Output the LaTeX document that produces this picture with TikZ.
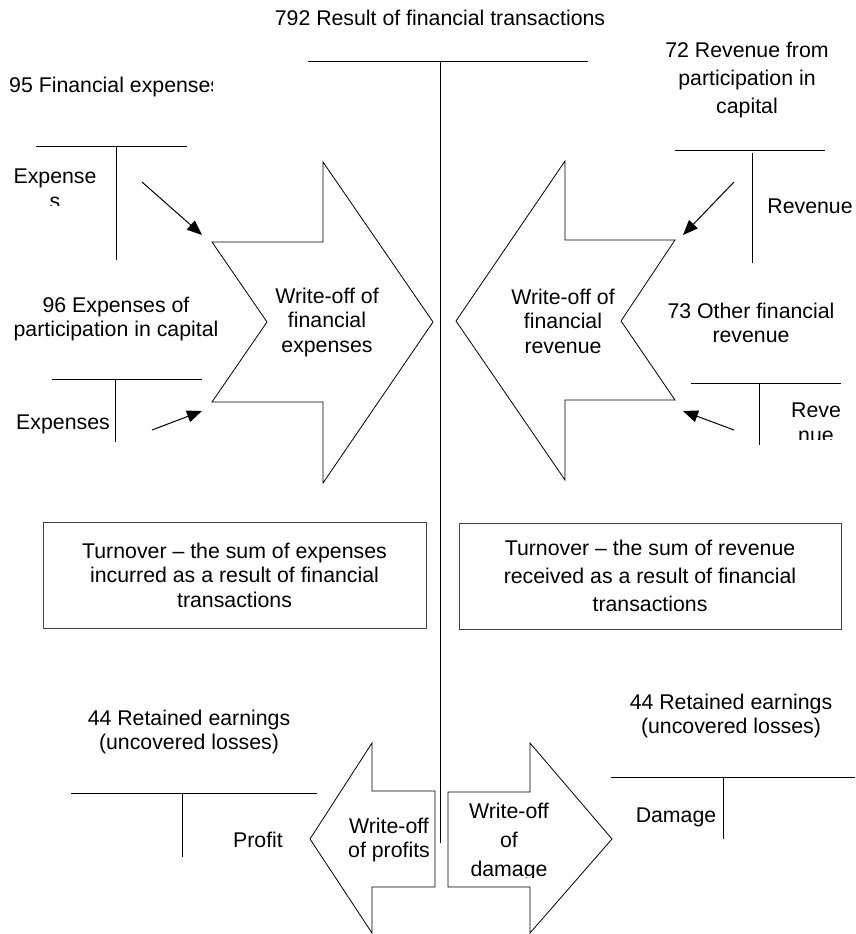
\documentclass[tikz,border=0pt]{standalone}
\usepackage{fontspec}
\setmainfont{Liberation Sans}
\usetikzlibrary{arrows.meta,positioning}
\tikzset{
	account/.style = {
		line width=1pt
	},
	txt/.style = {
		font=\fontsize{21.3}{24.5}\selectfont,
		align=center,
		inner sep=0pt
	},
	txtwide/.style = {
		font=\fontsize{21.3}{28}\selectfont,
		align=center,
		inner sep=0pt
	},
	pointer/.style = {
		-{Triangle[length=15pt,width=12pt]},
		line width=1pt
	},
	bigarrow/.style = {
		draw,
		line width=0.8pt,
		line join=miter
	},
	turnbox/.style = {
		draw=black!75,
		line width=1pt,
		rectangle,
		font=\fontsize{21.3}{24.5}\selectfont,
		align=center,
		inner sep=0pt
	}
}

\begin{document}
\begin{tikzpicture}[x=1pt,y=-1pt]
		\useasboundingbox (0,0) rectangle (855,934);
		
		% --- Cuenta central 792 ---
		\node [txt] (res) at (440,18) {792 Result of financial transactions};
		\draw [account] (308,62) -- (588,62);
		\draw [account] (440,62) -- (440,843);
		
		% --- Lado izquierdo: gastos financieros ---
		\begin{scope}
			\clip (0,60) rectangle (212,115);
			\node [txt, anchor=west] (fin95) at (9,87) {95 Financial expenses};
		\end{scope}
		\draw [account] (36,146) -- (187,146);
		\draw [account] (116,146) -- (116,260);
		\begin{scope}
			\clip (0,150) rectangle (112,205);
			\node [txt] (exp95) at (55,189) {Expense\\s};
		\end{scope}
		
		\node [txt] (fin96) at (116,319) {96 Expenses of\\participation in capital};
		\draw [account] (52,379) -- (202,379);
		\draw [account] (115,379) -- (115,442);
		\node [txt] (exp96) at (63,424) {Expenses};
		
		% Flecha grande: cargo de gastos
		\draw [bigarrow] (212,242) -- (323,242) -- (323,162) -- (433,322)
		-- (323,483) -- (323,402) -- (212,402) -- (267,322) -- cycle;
		\node [txt] (woExp) at (327,322) {Write-off of\\financial\\expenses};
		
		% Flechas de las cuentas 95 y 96
		\coordinate (p95) at (142,182);
		\coordinate (q95) at (202,235);
		\coordinate (p96) at (152,430);
		\coordinate (q96) at (202,411);
		\draw [pointer] (p95) -- (q95);
		\draw [pointer] (p96) -- (q96);
		
		% --- Lado derecho: ingresos financieros ---
		\node [txtwide] (rev72) at (747,80) {72 Revenue from\\participation in\\capital};
		\draw [account] (675,150) -- (825,150);
		\draw [account] (752,153) -- (752,263);
		\node [txt] (in72) at (810,206) {Revenue};
		
		\node [txt] (rev73) at (751,323) {73 Other financial\\revenue};
		\draw [account] (691,383) -- (841,383);
		\draw [account] (759,383) -- (759,445);
		\begin{scope}
			\clip (770,395) rectangle (855,439);
			\node [txt] (in73) at (816,423) {Reve\\nue};
		\end{scope}
		
		% Flecha grande: cargo de ingresos
		\draw [bigarrow] (565,161) -- (565,240) -- (675,240) -- (621,321)
		-- (675,400) -- (565,400) -- (565,480) -- (456,321) -- cycle;
		\node [txt] (woRev) at (563,321) {Write-off of\\financial\\revenue};
		
		% Flechas de las cuentas 72 y 73
		\coordinate (p72) at (734,182);
		\coordinate (q72) at (683,235);
		\coordinate (p73) at (734,430);
		\coordinate (q73) at (683,411);
		\draw [pointer] (p72) -- (q72);
		\draw [pointer] (p73) -- (q73);
		
		% --- Cuadros de rotación ---
		\node [turnbox, minimum width=383pt, minimum height=106pt] (turnExp) at (234.5,575)
		{Turnover -- the sum of expenses\\incurred as a result of financial\\transactions};
		\node [turnbox, minimum width=382pt, minimum height=106pt,
		font=\fontsize{21.3}{28}\selectfont] (turnRev) at (650,576)
		{Turnover -- the sum of revenue\\received as a result of financial\\transactions};
		
		% --- Parte inferior: cuenta 44 ---
		\node [txt] (ret44a) at (189,732) {44 Retained earnings\\(uncovered losses)};
		\draw [account] (71,793) -- (317,793);
		\draw [account] (182,793) -- (182,857);
		\node [txt] (profit) at (258,840) {Profit};
		
		\draw [bigarrow] (310,839) -- (372,743) -- (372,791) -- (435,791)
		-- (435,887) -- (372,887) -- (372,933) -- cycle;
		\node [txt] (woProfit) at (389,840) {Write-off\\of profits};
		
		\draw [bigarrow] (448,792) -- (530,792) -- (530,743) -- (612,839)
		-- (530,933) -- (530,887) -- (448,887) -- cycle;
		\begin{scope}
			\clip (450,795) rectangle (600,877);
			\node [txt, font=\fontsize{21.3}{29}\selectfont] (woDamage) at (509,842) {Write-off\\of\\damage};
		\end{scope}
		
		\node [txt] (ret44b) at (731,716) {44 Retained earnings\\(uncovered losses)};
		\draw [account] (611,777) -- (855,777);
		\draw [account] (723,778) -- (723,839);
		\node [txt] (damage) at (676,817) {Damage};
		
	\end{tikzpicture}
\end{document}
